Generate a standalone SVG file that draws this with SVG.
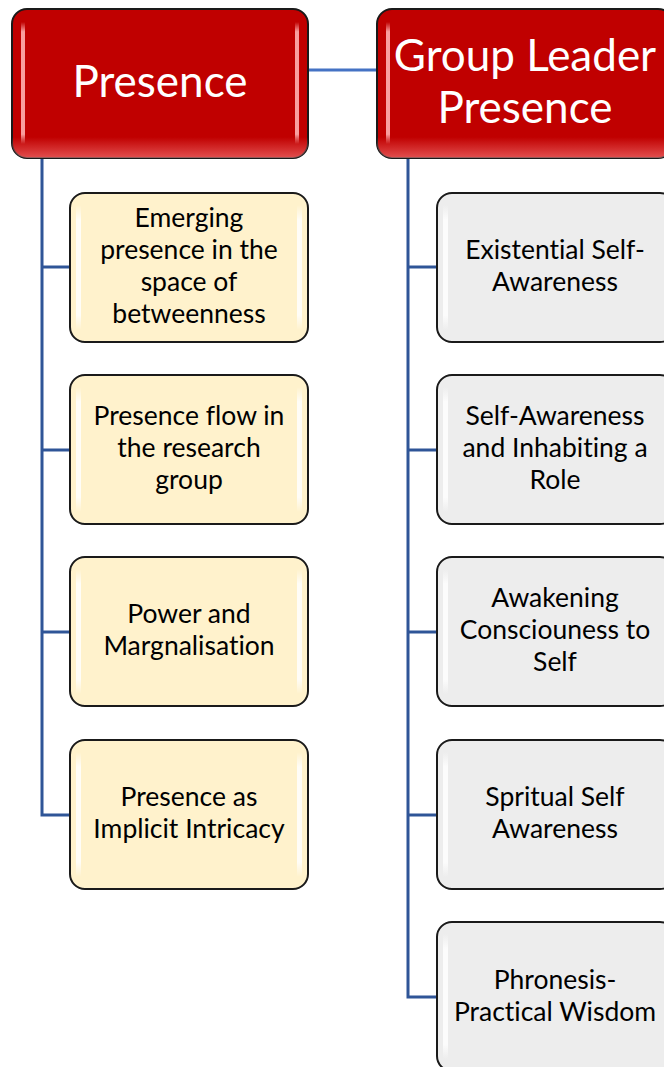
<svg xmlns="http://www.w3.org/2000/svg" width="664" height="1067" viewBox="0 0 664 1067">
<defs>
<linearGradient id="stripV" x1="0" y1="0" x2="0" y2="1">
<stop offset="0" stop-color="#fff" stop-opacity="0"/>
<stop offset="0.12" stop-color="#fff" stop-opacity="0.85"/>
<stop offset="0.88" stop-color="#fff" stop-opacity="0.85"/>
<stop offset="1" stop-color="#fff" stop-opacity="0"/>
</linearGradient>
<linearGradient id="redStripV" x1="0" y1="0" x2="0" y2="1">
<stop offset="0" stop-color="#ffb0b0" stop-opacity="0"/>
<stop offset="0.08" stop-color="#ffb0b0" stop-opacity="0.9"/>
<stop offset="0.92" stop-color="#ffb0b0" stop-opacity="0.9"/>
<stop offset="1" stop-color="#ffb0b0" stop-opacity="0"/>
</linearGradient>
<linearGradient id="redBottom" x1="0" y1="0" x2="0" y2="1">
<stop offset="0" stop-color="#ff9090" stop-opacity="0"/>
<stop offset="0.86" stop-color="#ff9090" stop-opacity="0"/>
<stop offset="1" stop-color="#ff9090" stop-opacity="0.55"/>
</linearGradient>
</defs>
<style>
.hdr{fill:#C00000;stroke:#1a1a1a;stroke-width:2}
.yel{fill:#FFF2CC;stroke:#1a1a1a;stroke-width:2}
.gry{fill:#EDEDED;stroke:#1a1a1a;stroke-width:2}
.ht{font-family:Lato,"Open Sans",sans-serif;font-size:44px;fill:#fff;text-anchor:middle;font-variant-ligatures:none}
.bt{font-family:Lato,"Open Sans",sans-serif;font-size:26.5px;fill:#000;text-anchor:middle;font-variant-ligatures:none}
.ln{stroke:#2F5597;stroke-width:3;fill:none}
.ln2{stroke:#4472C4;stroke-width:3;fill:none}
</style>
<g id="connectors">
<line class="ln2" x1="308" y1="70" x2="377" y2="70"/>
<polyline class="ln" points="42,158 42,815 70,815"/>
<line class="ln" x1="42" y1="267" x2="70" y2="267"/>
<line class="ln" x1="42" y1="450" x2="70" y2="450"/>
<line class="ln" x1="42" y1="632" x2="70" y2="632"/>
<polyline class="ln" points="408,158 408,997 437,997"/>
<line class="ln" x1="408" y1="267" x2="437" y2="267"/>
<line class="ln" x1="408" y1="450" x2="437" y2="450"/>
<line class="ln" x1="408" y1="632" x2="437" y2="632"/>
<line class="ln" x1="408" y1="815" x2="437" y2="815"/>
</g>
<g id="presence">
<rect class="hdr" x="12" y="9" width="296" height="149" rx="15"/>
<rect x="12" y="9" width="296" height="149" rx="15" fill="url(#redBottom)"/>
<rect x="21" y="22" width="4" height="122" fill="url(#redStripV)"/>
<rect x="295" y="22" width="4" height="122" fill="url(#redStripV)"/>
<text class="ht" x="160" y="97">Presence</text>
</g>
<g id="group-leader-presence">
<rect class="hdr" x="377" y="9" width="296" height="149" rx="15"/>
<rect x="377" y="9" width="296" height="149" rx="15" fill="url(#redBottom)"/>
<rect x="386" y="22" width="4" height="122" fill="url(#redStripV)"/>
<text class="ht" x="525" y="71">Group Leader</text>
<text class="ht" x="525" y="123">Presence</text>
</g>
<g id="p1">
<rect class="yel" x="70" y="193" width="238" height="149" rx="15"/>
<rect x="76" y="205" width="5" height="125" fill="url(#stripV)"/>
<rect x="297" y="205" width="5" height="125" fill="url(#stripV)"/>
<text class="bt" x="189"><tspan x="189" y="227">Emerging</tspan><tspan x="189" y="259">presence in the</tspan><tspan x="189" y="291">space of</tspan><tspan x="189" y="323">betweenness</tspan></text>
</g>
<g id="p2">
<rect class="yel" x="70" y="375" width="238" height="149" rx="15"/>
<rect x="76" y="387" width="5" height="125" fill="url(#stripV)"/>
<rect x="297" y="387" width="5" height="125" fill="url(#stripV)"/>
<text class="bt" x="189"><tspan x="189" y="425">Presence flow in</tspan><tspan x="189" y="457">the research</tspan><tspan x="189" y="489">group</tspan></text>
</g>
<g id="p3">
<rect class="yel" x="70" y="557" width="238" height="149" rx="15"/>
<rect x="76" y="569" width="5" height="125" fill="url(#stripV)"/>
<rect x="297" y="569" width="5" height="125" fill="url(#stripV)"/>
<text class="bt" x="189"><tspan x="189" y="623">Power and</tspan><tspan x="189" y="655">Margnalisation</tspan></text>
</g>
<g id="p4">
<rect class="yel" x="70" y="740" width="238" height="149" rx="15"/>
<rect x="76" y="752" width="5" height="125" fill="url(#stripV)"/>
<rect x="297" y="752" width="5" height="125" fill="url(#stripV)"/>
<text class="bt" x="189"><tspan x="189" y="806">Presence as</tspan><tspan x="189" y="838">Implicit Intricacy</tspan></text>
</g>
<g id="g1">
<rect class="gry" x="437" y="193" width="238" height="149" rx="15"/>
<rect x="443" y="205" width="5" height="125" fill="url(#stripV)"/>
<text class="bt" x="555"><tspan x="555" y="259">Existential Self-</tspan><tspan x="555" y="291">Awareness</tspan></text>
</g>
<g id="g2">
<rect class="gry" x="437" y="375" width="238" height="149" rx="15"/>
<rect x="443" y="387" width="5" height="125" fill="url(#stripV)"/>
<text class="bt" x="555"><tspan x="555" y="425">Self-Awareness</tspan><tspan x="555" y="457">and Inhabiting a</tspan><tspan x="555" y="489">Role</tspan></text>
</g>
<g id="g3">
<rect class="gry" x="437" y="557" width="238" height="149" rx="15"/>
<rect x="443" y="569" width="5" height="125" fill="url(#stripV)"/>
<text class="bt" x="555"><tspan x="555" y="607">Awakening</tspan><tspan x="555" y="639">Consciouness to</tspan><tspan x="555" y="671">Self</tspan></text>
</g>
<g id="g4">
<rect class="gry" x="437" y="740" width="238" height="149" rx="15"/>
<rect x="443" y="752" width="5" height="125" fill="url(#stripV)"/>
<text class="bt" x="555"><tspan x="555" y="806">Spritual Self</tspan><tspan x="555" y="838">Awareness</tspan></text>
</g>
<g id="g5">
<rect class="gry" x="437" y="922" width="238" height="149" rx="15"/>
<rect x="443" y="934" width="5" height="125" fill="url(#stripV)"/>
<text class="bt" x="555"><tspan x="555" y="989">Phronesis-</tspan><tspan x="555" y="1021">Practical Wisdom</tspan></text>
</g>
</svg>
